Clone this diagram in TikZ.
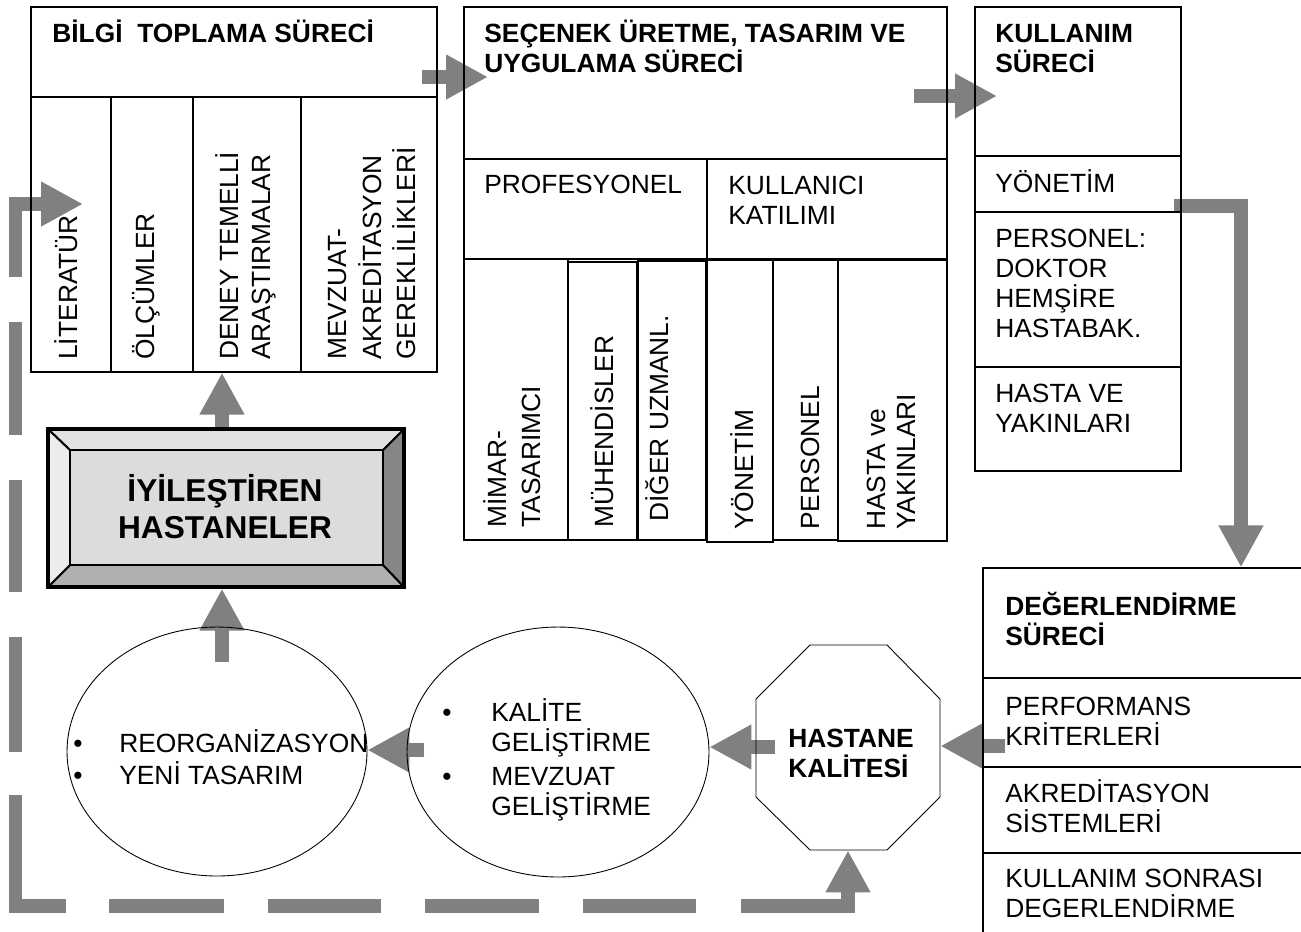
\documentclass[tikz,border=0pt]{standalone}
\usepackage{fontspec}
\setmainfont{Liberation Sans}
\usetikzlibrary{arrows.meta, backgrounds, fit, shapes.geometric}

\definecolor{arrowgray}{RGB}{128,128,128}
\definecolor{bevtop}{RGB}{226,226,226}
\definecolor{bevleft}{RGB}{236,236,236}
\definecolor{bevright}{RGB}{134,134,134}
\definecolor{bevbottom}{RGB}{176,176,176}
\definecolor{bevface}{RGB}{220,220,220}

\tikzset{
  cell/.style={draw=black, line width=0.7pt, inner sep=0pt},
  txt/.style={font=\fontsize{15}{17}\selectfont, align=left, anchor=base west, inner sep=0pt},
  heading/.style={txt, font=\fontsize{15}{17}\selectfont\bfseries},
  vtxt/.style={txt, rotate=90, font=\fontsize{15}{18.5}\selectfont},
  bigarrow/.style={draw=arrowgray, line width=0.28cm, -{Triangle[length=0.84cm, width=0.84cm]}},
}
\newcommand{\cellbox}[5]{\node[cell, fit={(#2,#3) (#4,#5)}] (#1) {};}

\begin{document}
\begin{tikzpicture}[x=0.02cm, y=-0.02cm]
  \useasboundingbox (0,0) rectangle (1301,931);
  \clip (0,0) rectangle (1301,931);

  % bilgi toplama (text nodes sit on the baseline of their last line)
  \cellbox{bilgi}{31}{7}{437}{97}
  \cellbox{lit}{31}{97}{111}{372}
  \cellbox{olc}{111}{97}{193}{372}
  \cellbox{deney}{193}{97}{301}{372}
  \cellbox{mevz}{301}{97}{437}{372}
  \node[heading] (tbilgi) at (52,42) {BİLGİ~~TOPLAMA SÜRECİ};
  \node[vtxt] (tlit) at (77,360) {LİTERATÜR};
  \node[vtxt] (tolc) at (154,360) {ÖLÇÜMLER};
  \node[vtxt] (tdeney) at (270.5,360) {DENEY TEMELLİ\\ARAŞTIRMALAR};
  \node[vtxt, font=\fontsize{15}{19.5}\selectfont] (tmevz) at (415.5,360) {MEVZUAT-\\AKREDİTASYON\\GEREKLİLİKLERİ};

  % secenek uretme
  \cellbox{secenek}{464}{7}{947}{159}
  \cellbox{prof}{464}{159}{707}{259}
  \cellbox{kull}{707}{159}{947}{259}
  \cellbox{mimar}{464}{259}{568}{540}
  \cellbox{muh}{568}{262}{637}{540}
  \cellbox{diger}{638}{261}{706}{540}
  \cellbox{ky}{707}{260}{773}{542}
  \cellbox{kp}{773}{260}{838}{540}
  \cellbox{kh}{838}{260}{947}{541}
  \node[heading] (tsecenek) at (484,72) {SEÇENEK ÜRETME, TASARIM VE\\UYGULAMA SÜRECİ};
  \node[txt] (tprof) at (484,193) {PROFESYONEL};
  \node[txt] (tkull) at (728,224) {KULLANICI\\KATILIMI};
  \node[vtxt, font=\fontsize{15}{19}\selectfont] (tmimar) at (540,528) {MİMAR-\\TASARIMCI};
  \node[vtxt] (tmuh) at (613,528) {MÜHENDİSLER};
  \node[vtxt] (tdiger) at (668,522) {DİĞER UZMANL.};
  \node[vtxt] (tky) at (753,530) {YÖNETİM};
  \node[vtxt] (tkp) at (819,530) {PERSONEL};
  \node[vtxt, font=\fontsize{15}{17}\selectfont] (tkh) at (915,530) {HASTA ve\\YAKINLARI};

  % kullanim
  \cellbox{kullanim}{975}{7}{1181}{156}
  \cellbox{ku1}{975}{156}{1181}{212}
  \cellbox{ku2}{975}{212}{1181}{367}
  \cellbox{ku3}{975}{367}{1181}{471}
  \node[heading] (tkullanim) at (995,72) {KULLANIM\\SÜRECİ};
  \node[txt] (tku1) at (995,192) {YÖNETİM};
  \node[txt] (tku2) at (995,337) {PERSONEL:\\DOKTOR\\HEMŞİRE\\HASTABAK.};
  \node[txt] (tku3) at (995,432) {HASTA VE\\YAKINLARI};

  % degerlendirme
  \cellbox{deger}{983}{568}{1320}{678}
  \cellbox{de1}{983}{678}{1320}{767}
  \cellbox{de2}{983}{767}{1320}{853}
  \cellbox{de3}{983}{853}{1320}{945}
  \node[heading] (tdeger) at (1005,645) {DEĞERLENDİRME\\SÜRECİ};
  \node[txt] (tde1) at (1005,745) {PERFORMANS\\KRİTERLERİ};
  \node[txt] (tde2) at (1005,832) {AKREDİTASYON\\SİSTEMLERİ};
  \node[txt] (tde3) at (1005,917) {KULLANIM SONRASI\\DEGERLENDİRME};

  % iyilestiren hastaneler
  \fill[bevface] (70,450) rectangle (383,565);
  \fill[bevtop] (48,429) -- (404,429) -- (383,450) -- (70,450) -- cycle;
  \fill[bevleft] (48,429) -- (70,450) -- (70,565) -- (48,587) -- cycle;
  \fill[bevright] (404,429) -- (404,587) -- (383,565) -- (383,450) -- cycle;
  \fill[bevbottom] (48,587) -- (404,587) -- (383,565) -- (70,565) -- cycle;
  \draw[line width=1.2pt] (48,429) -- (70,450) (404,429) -- (383,450)
    (48,587) -- (70,565) (404,587) -- (383,565);
  \draw[line width=1.3pt] (70,450) rectangle (383,565);
  \node[draw, line width=1.8pt, inner sep=0pt, fit={(48,429) (404,587)}] (iyi) {};
  \node[heading, font=\fontsize{18}{20.5}\selectfont\bfseries, align=center, anchor=base] (tiyi) at (225,538) {İYİLEŞTİREN\\HASTANELER};

  % hastane kalitesi
  \draw[line width=0.5pt] (810,645) -- (887,645) -- (940,699) -- (940,797)
    -- (887,850) -- (810,850) -- (756,797) -- (756,699) -- cycle;
  \node[inner sep=0pt, fit={(756,645) (940,850)}] (oct) {};
  \node[heading] (toct) at (788,777) {HASTANE\\KALİTESİ};

  % ellipses
  \node[draw, ellipse, line width=0.5pt, inner sep=0pt, minimum width=6cm, minimum height=4.98cm] (ell1) at (217,751.5) {};
  \node[draw, ellipse, line width=0.5pt, inner sep=0pt, minimum width=6.04cm, minimum height=5cm] (ell2) at (558,752) {};
  \node[txt] (tell1) at (73,784) {\makebox[0.92cm][l]{•}REORGANİZASYON\\[1.2pt]\makebox[0.92cm][l]{•}YENİ TASARIM};
  \node[txt] (tell2) at (442,815) {\makebox[0.98cm][l]{•}KALİTE\\\hspace*{0.98cm}GELİŞTİRME\\[2pt]\makebox[0.98cm][l]{•}MEVZUAT\\\hspace*{0.98cm}GELİŞTİRME};

  % arrows
  \begin{scope}[on background layer]
    \coordinate (a12s) at (422,77);
    \coordinate (a12e) at (488,77);
    \draw[bigarrow] (a12s) -- (a12e);
    \coordinate (a23s) at (914,96);
    \coordinate (a23e) at (997,96);
    \draw[bigarrow] (a23s) -- (a23e);
    \coordinate (a34s) at (1174,205.5);
    \coordinate (a34k) at (1241,205.5);
    \draw[bigarrow] (a34s) -- (a34k) -- (a34k |- deger.north);
    \coordinate (a4os) at (1005,746);
    \draw[bigarrow] (a4os) -- (a4os -| oct.east);
    \coordinate (ao2s) at (775,747);
    \draw[bigarrow] (ao2s) -- (ao2s -| ell2.east);
    \coordinate (a21s) at (424,750);
    \draw[bigarrow] (a21s) -- (a21s -| ell1.east);
    \coordinate (ae1s) at (222,662);
    \draw[bigarrow] (ae1s) -- (ae1s |- iyi.south);
    \coordinate (aibs) at (222,432);
    \draw[bigarrow] (aibs) -- (aibs |- deney.south);

    % feedback loop
    \coordinate (littip) at (83,204);
    \coordinate (loopbl) at (15.5,906);
    \draw[arrowgray, line width=0.28cm, shorten <=0.84cm, shorten >=0.76cm,
      dash pattern=on 1.98cm off 0.9cm on 2.26cm off 0.9cm on 2.24cm off 0.9cm
        on 2.3cm off 0.86cm on 3.22cm off 0.86cm on 2.3cm off 0.88cm on 2.26cm
        off 0.88cm on 2.28cm off 0.88cm on 2.26cm off 0.9cm on 4cm off 1cm]
      (littip) -| (loopbl) -| (oct.south);
    \draw[bigarrow] (20,204) -- (littip);
    \draw[bigarrow] (oct.south |- loopbl) -- (oct.south);
  \end{scope}

\end{tikzpicture}
\end{document}
